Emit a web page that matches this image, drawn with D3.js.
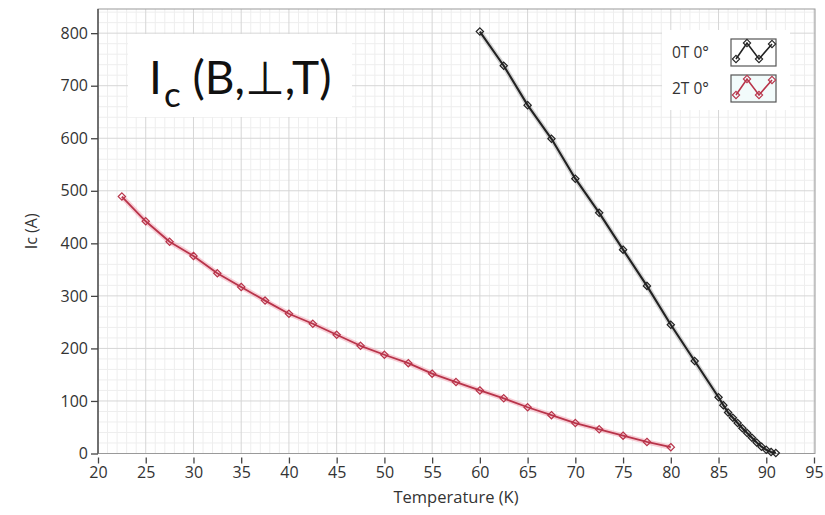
<!DOCTYPE html>
<html>
<head>
<meta charset="utf-8">
<script src="https://cdn.jsdelivr.net/npm/d3@7"></script>
<style>
  html, body { margin: 0; padding: 0; background: #fff; }
  svg { display: block; }
  .tick text { font-family: "Open Sans", "Noto Sans", sans-serif; font-size: 16px; fill: #333; }
</style>
</head>
<body>
<svg id="chart" width="825" height="515"></svg>
<script>
// Critical current vs temperature, self-field (0T) and 2T, field at 0°
const temps0T = [60, 62.5, 65, 67.5, 70, 72.5, 75, 77.5, 80, 82.5, 85,
                 85.5, 86, 86.5, 87, 87.5, 88, 88.5, 89, 89.5, 90, 90.5, 91];
const ic0T    = [803, 738, 663, 599, 523, 458, 388, 319, 245, 176, 107,
                 92, 78, 68, 58, 48, 39, 30, 21, 13, 7, 3, 1];

const temps2T = [22.5, 25, 27.5, 30, 32.5, 35, 37.5, 40, 42.5, 45, 47.5, 50,
                 52.5, 55, 57.5, 60, 62.5, 65, 67.5, 70, 72.5, 75, 77.5, 80];
const ic2T    = [489, 442, 403, 376, 343, 317, 291, 266, 247, 226, 205, 188,
                 172, 152, 136, 120, 105, 88, 73, 58, 46, 34, 22, 12];

const seriesNames = ["0T 0°", "2T 0°"];
const xTicks = [20, 25, 30, 35, 40, 45, 50, 55, 60, 65, 70, 75, 80, 85, 90, 95];
const yTicks = [0, 100, 200, 300, 400, 500, 600, 700, 800];
const xLabel = "Temperature (K)";
const yLabel = "Ic (A)";

const svg = d3.select("#chart");

const plot = { left: 98, right: 815, top: 9, bottom: 453.5 };
const x = d3.scaleLinear().domain([20, 95]).range([plot.left, 814]);
const y = d3.scaleLinear().domain([0, 846]).range([plot.bottom, plot.top]);

// plot background
svg.append("rect")
  .attr("x", plot.left).attr("y", plot.top)
  .attr("width", plot.right - plot.left).attr("height", plot.bottom - plot.top)
  .attr("fill", "#fff");

// minor grid
const grid = svg.append("g");
grid.selectAll(".mx").data(d3.range(21, 95, 1).filter(v => v % 5 !== 0)).join("line")
  .attr("x1", d => x(d)).attr("x2", d => x(d))
  .attr("y1", plot.top).attr("y2", plot.bottom)
  .attr("stroke", "#eeeeee").attr("stroke-width", 1);
grid.selectAll(".my").data(d3.range(20, 846, 20).filter(v => v % 100 !== 0)).join("line")
  .attr("y1", d => y(d)).attr("y2", d => y(d))
  .attr("x1", plot.left).attr("x2", plot.right)
  .attr("stroke", "#eeeeee").attr("stroke-width", 1);
// major grid
grid.selectAll(".Mx").data(xTicks).join("line")
  .attr("x1", d => x(d)).attr("x2", d => x(d))
  .attr("y1", plot.top).attr("y2", plot.bottom)
  .attr("stroke", "#d6d6d6").attr("stroke-width", 1);
grid.selectAll(".My").data(yTicks).join("line")
  .attr("y1", d => y(d)).attr("y2", d => y(d))
  .attr("x1", plot.left).attr("x2", plot.right)
  .attr("stroke", "#d6d6d6").attr("stroke-width", 1);

// frame
svg.append("rect")
  .attr("x", plot.left).attr("y", plot.top)
  .attr("width", plot.right - plot.left).attr("height", plot.bottom - plot.top)
  .attr("fill", "none").attr("stroke", "#9a9a9a").attr("stroke-width", 1);
svg.append("line")
  .attr("x1", plot.left).attr("x2", plot.left)
  .attr("y1", plot.top).attr("y2", plot.bottom)
  .attr("stroke", "#444").attr("stroke-width", 1.3);

// axes
const yAxis = svg.append("g")
  .attr("transform", `translate(${plot.left},0)`)
  .call(d3.axisLeft(y).tickValues(yTicks).tickSize(7).tickPadding(3));
yAxis.select(".domain").remove();
yAxis.selectAll(".tick line").attr("stroke", "#444").attr("stroke-width", 1.3);

const xAxis = svg.append("g")
  .attr("transform", `translate(0,${plot.bottom + 4})`)
  .call(d3.axisBottom(x).tickValues(xTicks).tickSize(6).tickPadding(3));
xAxis.select(".domain").remove();
xAxis.selectAll(".tick line").attr("stroke", "#444").attr("stroke-width", 1.3);

svg.append("text")
  .attr("x", 456).attr("y", 503)
  .attr("text-anchor", "middle")
  .attr("font-family", "'Open Sans', 'Noto Sans', sans-serif")
  .attr("font-size", 16.5).attr("fill", "#333")
  .text(xLabel);
svg.append("text")
  .attr("transform", `translate(37,${(plot.top + plot.bottom) / 2}) rotate(-90)`)
  .attr("text-anchor", "middle")
  .attr("font-family", "'Open Sans', 'Noto Sans', sans-serif")
  .attr("font-size", 16).attr("fill", "#333")
  .text(yLabel);

// series
const diamond = d3.symbol().type(d3.symbolDiamond2).size(34);
const line = d3.line().x(d => x(d[0])).y(d => y(d[1]));

function drawSeries(temps, vals, color, halo, width) {
  const pts = temps.map((t, i) => [t, vals[i]]);
  const g = svg.append("g");
  g.append("path").datum(pts).attr("d", line)
    .attr("fill", "none").attr("stroke", halo).attr("stroke-width", 5)
    .attr("stroke-opacity", 0.55).attr("stroke-linejoin", "round");
  g.append("path").datum(pts).attr("d", line)
    .attr("fill", "none").attr("stroke", color).attr("stroke-width", width)
    .attr("stroke-linejoin", "round");
  g.selectAll("path.m").data(pts).join("path")
    .attr("class", "m")
    .attr("transform", d => `translate(${x(d[0])},${y(d[1])})`)
    .attr("d", diamond)
    .attr("fill", "none").attr("stroke", color).attr("stroke-width", 1.2);
}
drawSeries(temps2T, ic2T, "#b8344a", "#f3a7b6", 1.8);
drawSeries(temps0T, ic0T, "#222222", "#b5b5b5", 2.1);

// legend
const legend = svg.append("g");
legend.append("rect").attr("x", 662).attr("y", 30).attr("width", 128).attr("height", 80)
  .attr("fill", "#fff");
const legendItems = [
  { name: seriesNames[0], color: "#222222", bg: "#ffffff", y: 39 },
  { name: seriesNames[1], color: "#b8344a", bg: "#f2fbfb", y: 75 }
];
const zig = [[5, 20], [16, 4], [28, 20], [41, 5]];
legendItems.forEach(it => {
  legend.append("text")
    .attr("x", 672).attr("y", it.y + 19)
    .attr("font-family", "'Open Sans', 'Noto Sans', sans-serif")
    .attr("font-size", 15.5).attr("fill", "#333")
    .text(it.name);
  const box = legend.append("g").attr("transform", `translate(731,${it.y})`);
  box.append("rect").attr("width", 45).attr("height", 27)
    .attr("fill", it.bg).attr("stroke", "#555").attr("stroke-width", 1.2);
  box.append("path").datum(zig).attr("d", d3.line())
    .attr("fill", "none").attr("stroke", it.color).attr("stroke-width", 1.6);
  box.selectAll("path.m").data(zig).join("path").attr("class", "m")
    .attr("transform", d => `translate(${d[0]},${d[1]})`)
    .attr("d", diamond).attr("fill", "none").attr("stroke", it.color).attr("stroke-width", 1.1);
});

// title box
const title = svg.append("g");
title.append("rect").attr("x", 128).attr("y", 34).attr("width", 224).attr("height", 83)
  .attr("fill", "#fff");
const tt = title.append("text")
  .attr("x", 149).attr("y", 94)
  .attr("font-family", "Lato, 'Open Sans', sans-serif")
  .attr("font-size", 46).attr("fill", "#111");
tt.append("tspan").text("I");
tt.append("tspan").attr("font-size", 35).attr("dy", 13).attr("dx", 2).text("c");
tt.append("tspan").attr("dy", -13).text(" (B,⊥,T)");
</script>
</body>
</html>
